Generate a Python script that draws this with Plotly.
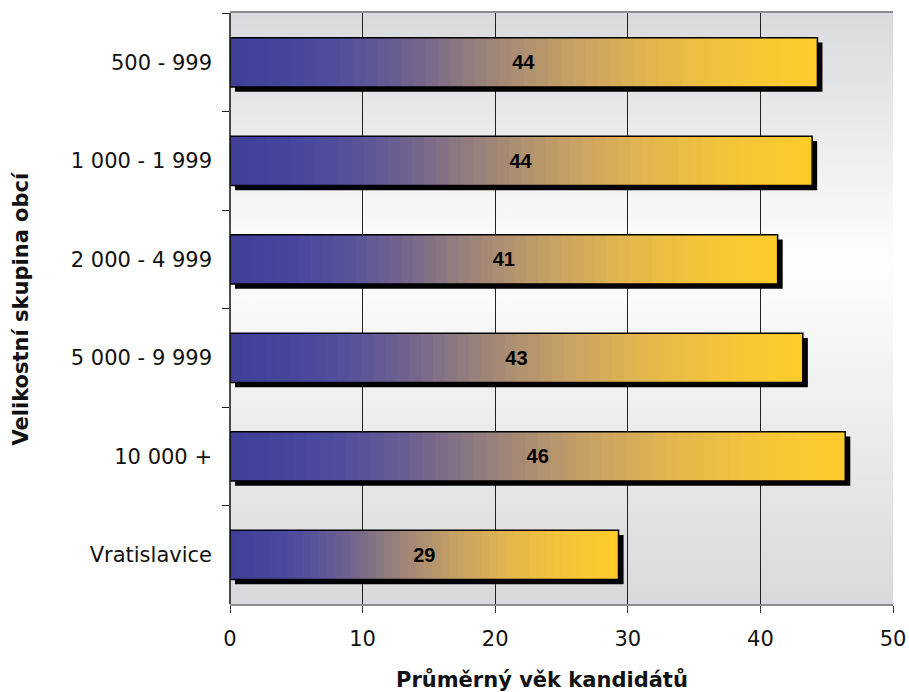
"""
Průměrný věk kandidátů podle velikostní skupiny obcí - horizontal gradient bars
"""
import base64
import plotly.graph_objs as go

categories = ['500 - 999', '1 000 - 1 999', '2 000 - 4 999', '5 000 - 9 999', '10 000 +', 'Vratislavice']
avg_age = [44.3, 43.9, 41.3, 43.2, 46.4, 29.3]
age_labels = ['44', '44', '41', '43', '46', '29']
x_ticks = [0, 10, 20, 30, 40, 50]

# blue -> tan -> yellow, sampled along each bar
bar_scale = [(0.0, '#3f3f99'), (0.12, '#47479d'), (0.2, '#54509b'), (0.3, '#6e6190'),
             (0.4, '#8e7b80'), (0.5, '#b09070'), (0.6, '#cba462'), (0.72, '#e2b64c'),
             (0.85, '#f3c43a'), (1.0, '#ffcc2a')]
n_seg = 48


def hex2rgb(h):
    h = h.lstrip('#')
    return [int(h[i:i + 2], 16) for i in (0, 2, 4)]


def color_at(t):
    for (t0, c0), (t1, c1) in zip(bar_scale[:-1], bar_scale[1:]):
        if t0 <= t <= t1:
            f = (t - t0) / (t1 - t0) if t1 > t0 else 0
            a, b = hex2rgb(c0), hex2rgb(c1)
            return 'rgb(%d,%d,%d)' % tuple(round(a[i] + (b[i] - a[i]) * f) for i in range(3))
    return bar_scale[-1][1]


fig = go.Figure()

# drop shadow (shifted a few px right / down)
fig.add_trace(go.Bar(y=categories, x=avg_age, base=0.38, orientation='h', width=0.5, offset=-0.2,
                     marker=dict(color='black', line=dict(width=0)), hoverinfo='skip'))

# gradient: slice k runs from k/n of the bar to its end, later slices cover earlier ones
# (overlapping avoids hairline seams between slices)
for k in range(n_seg):
    fig.add_trace(go.Bar(y=categories, x=[v * (n_seg - k) / n_seg for v in avg_age],
                         base=[v * k / n_seg for v in avg_age], orientation='h', width=0.5,
                         marker=dict(color=color_at((k + 0.5) / n_seg), line=dict(width=0)),
                         hoverinfo='skip'))

# outline + value labels
fig.add_trace(go.Bar(y=categories, x=avg_age, orientation='h', width=0.5,
                     marker=dict(color='rgba(0,0,0,0)', line=dict(color='black', width=1.5)),
                     text=age_labels, textposition='inside', insidetextanchor='middle',
                     textangle=0,
                     textfont=dict(family='Liberation Sans, Arial', size=20, color='black', weight='bold'),
                     hoverinfo='skip'))

svg = ('<svg xmlns="http://www.w3.org/2000/svg" width="10" height="100" preserveAspectRatio="none">'
       '<defs><linearGradient id="g" x1="0" y1="0" x2="0" y2="1">'
       '<stop offset="0" stop-color="#d9dadd"/><stop offset="0.42" stop-color="#fefefe"/>'
       '<stop offset="1" stop-color="#d8d9dc"/></linearGradient></defs>'
       '<rect width="10" height="100" fill="url(#g)"/></svg>')
bg_src = 'data:image/svg+xml;base64,' + base64.b64encode(svg.encode()).decode()

fig.update_layout(
    width=909, height=692,
    margin=dict(l=230, r=16, t=13, b=88),
    barmode='overlay', showlegend=False,
    paper_bgcolor='white', plot_bgcolor='rgba(0,0,0,0)',
    font=dict(family='DejaVu Sans, Verdana', size=21, color='#111'),
    images=[dict(source=bg_src, xref='paper', yref='paper', x=0, y=1, sizex=1, sizey=1,
                 sizing='stretch', xanchor='left', yanchor='top', layer='below')],
    xaxis=dict(range=[0, 50], tickvals=x_ticks, showgrid=True, gridcolor='#222', gridwidth=1,
               zeroline=False, ticks='outside', ticklen=7, tickcolor='#333',
               showline=True, linecolor='#8c8c8c', linewidth=2, mirror=True,
               ticklabelstandoff=8, automargin=False),
    yaxis=dict(type='category', categoryorder='array', categoryarray=categories,
               autorange='reversed', tickson='boundaries', ticks='outside', ticklen=7,
               tickcolor='#222', showgrid=False, showline=False, ticklabelstandoff=17,
               automargin=False),
    shapes=[dict(type='line', xref='paper', yref='paper', x0=0, x1=0, y0=0, y1=1,
                 line=dict(color='#111', width=1.5))],
    annotations=[
        dict(text='<b>Průměrný věk kandidátů</b>', xref='paper', yref='paper', x=0.47, y=-0.1286,
             xanchor='center', yanchor='middle', showarrow=False, font=dict(size=21, color='#111')),
        dict(text='<b>Velikostní skupina obcí</b>', xref='paper', yref='paper', x=-0.3167, y=0.5,
             xanchor='center', yanchor='middle', showarrow=False, textangle=-90,
             font=dict(size=21, color='#111')),
    ],
)

fig.write_html("out.html", config={'displayModeBar': False},
               post_script="document.body.style.margin='0';")
